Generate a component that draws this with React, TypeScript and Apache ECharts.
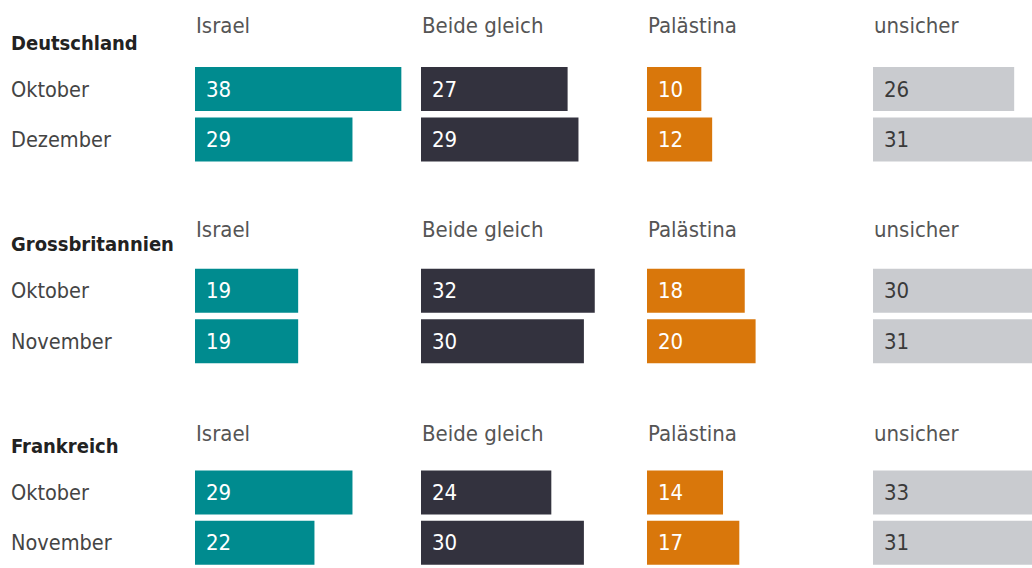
import React, { useEffect, useRef } from "react";
import * as echarts from "echarts";

const columns = ["Israel", "Beide gleich", "Palästina", "unsicher"];
const countries = ["Deutschland", "Grossbritannien", "Frankreich"];
const months = [
  ["Oktober", "Dezember"],
  ["Oktober", "November"],
  ["Oktober", "November"],
];
const israel = [38, 29, 19, 19, 29, 22];
const beideGleich = [27, 29, 32, 30, 24, 30];
const palaestina = [10, 12, 18, 20, 14, 17];
const unsicher = [26, 31, 30, 31, 33, 31];

const colors = ["#008b8f", "#33323e", "#d9770b", "#c9cbcf"];
const labelColors = ["#ffffff", "#ffffff", "#ffffff", "#3a3a3a"];

const FONT = '"DejaVu Sans Condensed", "Liberation Sans Narrow", "Roboto", sans-serif';

export default function App() {
  const ref = useRef<HTMLDivElement>(null);
  useEffect(() => {
    if (!ref.current) return;
    const chart = echarts.init(ref.current, null, { renderer: "svg" });

    const slots: { kind: string; text: string; row: number }[] = [];
    countries.forEach((c, ci) => {
      slots.push({ kind: "h", text: c, row: -1 });
      months[ci].forEach((m, mi) => slots.push({ kind: "r", text: m, row: ci * 2 + mi }));
      if (ci < countries.length - 1) slots.push({ kind: "s", text: "", row: -1 });
    });
    const catKeys = slots.map((_, i) => "s" + i);
    const values = [israel, beideGleich, palaestina, unsicher];

    const W = 1032;
    const gridLefts = [195, 421, 647, 873];
    const colWidth = 226;
    const pxPerUnit = 5.43;
    const slotH = 51;
    const top = 13.5;
    const widths = gridLefts.map((l) => Math.min(colWidth, W - l));

    const grids = gridLefts.map((l, i) => ({
      left: l,
      top,
      width: widths[i],
      height: slotH * slots.length,
      containLabel: false,
    }));
    const xAxes = gridLefts.map((_, i) => ({
      type: "value",
      gridIndex: i,
      min: 0,
      max: widths[i] / pxPerUnit,
      show: false,
    }));
    const yAxes = gridLefts.map((_, i) => ({
      type: "category",
      gridIndex: i,
      data: catKeys,
      inverse: true,
      axisLine: { show: false },
      axisTick: { show: false },
      splitLine: { show: false },
      axisLabel: {
        show: i === 0,
        align: "left",
        margin: 184,
        formatter: (_v: string, idx: number) => {
          const s = slots[idx];
          if (s.kind === "h") return "{h|" + s.text + "}";
          if (s.kind === "r") return "{r|" + s.text + "}";
          return "";
        },
        rich: {
          h: { fontFamily: FONT, fontSize: 20, fontWeight: "bold", color: "#222222", padding: [8, 0, 0, 0] },
          r: { fontFamily: FONT, fontSize: 21.5, color: "#444444" },
        },
      },
    }));
    const series = values.map((vals, ci) => ({
      type: "bar",
      name: columns[ci],
      xAxisIndex: ci,
      yAxisIndex: ci,
      barWidth: 44,
      clip: true,
      itemStyle: { color: colors[ci] },
      label: {
        show: true,
        position: "insideLeft",
        distance: 11,
        fontFamily: FONT,
        fontSize: 22,
        color: labelColors[ci],
      },
      data: slots.map((s) => (s.row >= 0 ? vals[s.row] : "-")),
    }));

    const graphic: any[] = [];
    slots.forEach((s, si) => {
      if (s.kind !== "h") return;
      const cy = top + slotH * (si + 0.5) - 14;
      columns.forEach((col, ci) => {
        graphic.push({
          type: "text",
          x: gridLefts[ci] + 1,
          y: cy,
          style: {
            text: col,
            fontFamily: FONT,
            fontSize: 22,
            fill: "#555555",
            verticalAlign: "middle",
          },
        });
      });
    });

    chart.setOption({
      animation: false,
      backgroundColor: "#ffffff",
      grid: grids,
      xAxis: xAxes,
      yAxis: yAxes,
      series,
      graphic,
    });
    return () => chart.dispose();
  }, []);
  return (
    <div
      ref={ref}
      style={{ position: "fixed", left: 0, top: 0, width: 1032, height: 568, background: "#fff" }}
    />
  );
}
